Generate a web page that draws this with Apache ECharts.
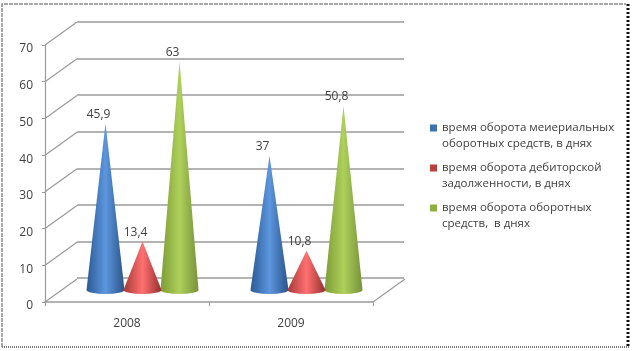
<!DOCTYPE html>
<html><head><meta charset="utf-8">
<style>html,body{margin:0;padding:0;background:#fff}#c{width:636px;height:351px}</style>
<script src="https://cdn.jsdelivr.net/npm/echarts@6/dist/echarts.min.js"></script>
</head><body><div id="c"></div>
<script>
const categories = ['2008', '2009'];
const materialDays = [45.9, 37];
const receivableDays = [13.4, 10.8];
const currentAssetDays = [63, 50.8];
const valueTicks = [0, 10, 20, 30, 40, 50, 60, 70];
const seriesNames = [
  'время оборота меиериальных\nоборотных средств, в днях',
  'время оборота дебиторской\nзадолженности, в днях',
  'время оборота оборотных\nсредств,  в днях'
];
const seriesValues = [materialDays, receivableDays, currentAssetDays];
const shades = [
  ['#2b5a94', '#5c96de', '#2a5488'],
  ['#a53836', '#ff7070', '#93302e'],
  ['#7d9c36', '#aed05a', '#76923a']
];
const legendColors = ['#3f72b0', '#b5403d', '#8fb03e'];

const txt = '#404040', line = '#9a9a9a';
const font = 'Open Sans';
const depthX = 32, depthY = 23;
const front = {left: 45, right: 263, top: 45, bottom: 49};
// Cones stand half way through the depth of the box.
const mid = {left: 60.5, right: 247.5, top: 36, bottom: 61};
const back = {left: 77, right: 232, top: 22, bottom: 73};
const halfBase = 19, baseRy = 4, spread = 37, labelShift = -7;

function cone(seriesIndex) {
  return function (params, api) {
    const cat = api.value(0), v = api.value(1);
    const base = api.coord([cat, 0]);
    const top = api.coord([cat, v]);
    const cx = base[0] + (seriesIndex - 1) * spread;
    const c = shades[seriesIndex];
    const fill = {type: 'linear', x: 0, y: 0, x2: 1, y2: 0, colorStops: [
      {offset: 0, color: c[0]}, {offset: 0.5, color: c[1]}, {offset: 1, color: c[2]}]};
    const r = halfBase, ry = baseRy, y = base[1];
    return {type: 'group', children: [
      {type: 'path', shape: {
        pathData: `M${cx - r} ${y} L${cx} ${top[1]} L${cx + r} ${y} A${r} ${ry} 0 0 1 ${cx - r} ${y} Z`,
        layout: 'cover', x: cx - r, y: top[1], width: 2 * r, height: y + ry - top[1]},
        style: {fill: fill}},
      {type: 'text', z2: 5, style: {text: String(v).replace('.', ','), x: cx + labelShift, y: top[1] - 3,
        align: 'center', verticalAlign: 'bottom', fill: txt, font: '12px "' + font + '"'}}
    ]};
  };
}

function depthLine(x, y) {
  return {type: 'line', shape: {x1: x, y1: y, x2: x + depthX, y2: y - depthY},
    style: {stroke: line, lineWidth: 1.2}};
}

const option = {
  animation: false,
  backgroundColor: '#fff',
  textStyle: {fontFamily: font},
  grid: [
    Object.assign({}, front),
    Object.assign({}, mid),
    Object.assign({}, back)
  ],
  xAxis: [0, 1, 2].map(i => ({
    type: 'category', data: categories, gridIndex: i, show: i === 0,
    axisLine: {lineStyle: {color: line, width: 1.5}},
    axisTick: {show: true, alignWithLabel: false, length: 4, lineStyle: {color: line}},
    axisLabel: {color: txt, fontSize: 12, margin: 16, fontFamily: font},
    splitLine: {show: false}
  })),
  yAxis: [0, 1, 2].map(i => ({
    type: 'value', min: 0, max: 70, interval: 10, gridIndex: i, show: i !== 1,
    axisLine: {show: i === 0, lineStyle: {color: line, width: 1.2}},
    axisTick: {show: i === 0, length: 3, lineStyle: {color: line}},
    axisLabel: {show: i === 0, color: txt, fontSize: 12, margin: 12, fontFamily: font,
      verticalAlign: 'top', lineHeight: 8},
    splitLine: {show: i === 2, lineStyle: {color: line, width: 1.5}}
  })),
  legend: {
    orient: 'vertical', left: 430, top: 120, padding: 0, itemWidth: 7, itemHeight: 23, itemGap: 8,
    icon: 'path://M0 0H7V7H0ZM0 23L0.01 23Z', selectedMode: false,
    textStyle: {color: txt, fontSize: 11.5, lineHeight: 16, fontFamily: font},
    data: seriesNames
  },
  series: [
    {type: 'custom', silent: true, xAxisIndex: 0, yAxisIndex: 0, z: 1, name: 'depth',
     data: valueTicks.map(t => [0, t]),
     renderItem: function (params, api) {
       const p = api.coord([0, api.value(1)]);
       return depthLine(p[0] - api.size([1, 0])[0] / 2, p[1]);
     }},
    {type: 'custom', silent: true, xAxisIndex: 0, yAxisIndex: 0, z: 1, name: 'floor',
     data: [[1, 0]],
     renderItem: function (params, api) {
       const p = api.coord([1, 0]);
       return depthLine(p[0] + api.size([1, 0])[0] / 2, p[1]);
     }}
  ].concat(seriesNames.map((name, s) => ({
    type: 'custom', name: name, xAxisIndex: 1, yAxisIndex: 1, z: 3 + (s === 1 ? 1 : 0),
    itemStyle: {color: legendColors[s]},
    data: seriesValues[s].map((v, i) => [i, v]),
    renderItem: cone(s)
  }))),
  graphic: [
    {type: 'polyline', silent: true, shape: {points: [[2, 347], [2, 4], [626, 4]]},
     style: {stroke: '#8a8a8a', fill: null, lineWidth: 1.5, lineDash: [4, 1]}},
    {type: 'line', silent: true, shape: {x1: 2, y1: 347, x2: 629, y2: 347},
     style: {stroke: '#777', lineWidth: 2, lineDash: [1, 1]}},
    {type: 'line', silent: true, shape: {x1: 628, y1: 4, x2: 628, y2: 347},
     style: {stroke: '#111', lineWidth: 3, lineDash: [2, 2]}}
  ]
};
const chart = echarts.init(document.getElementById('c'), null, {renderer: 'canvas'});
chart.setOption(option);
</script></body></html>
